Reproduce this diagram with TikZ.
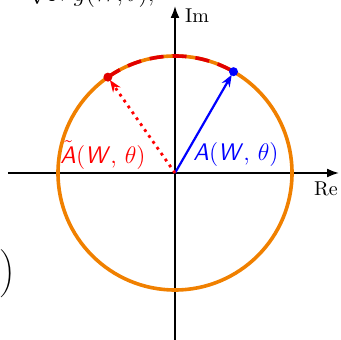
\documentclass[tikz,border=0pt]{standalone}
\usetikzlibrary{arrows.meta,calc}
\definecolor{corange}{RGB}{240,128,0}
\definecolor{cred}{RGB}{225,0,0}
\begin{document}
\begin{tikzpicture}[x=0.5pt,y=0.5pt,
  axis/.style={line width=0.9pt,-{Latex[length=6pt,width=4.5pt]}},
  ring/.style={draw=corange,line width=1.8pt},
  arcdash/.style={draw=cred,line width=1.8pt,dash pattern=on 7pt off 4.5pt},
  vecA/.style={blue,line width=1.1pt,-{Stealth[length=6pt,width=4.5pt]}},
  vecAt/.style={red,line width=1.4pt,dash pattern=on 1.4pt off 2.2pt,-{Stealth[length=6pt,width=4.5pt]}},
  lab/.style={font=\large}]
\clip (-175,-167) rectangle (166,173);
\useasboundingbox (-175,-167) rectangle (166,173);
% partial texts from the surrounding page
\node[anchor=base west,inner sep=0pt,font=\large] (eq) at (-147,171) {$\sqrt{N}\,g(W,\theta),$};
\node[inner sep=0pt] (par) at (-167,-101) {$\bigg)$};
% axes
\coordinate (xl) at (-167,0);
\coordinate (xr) at (164,0);
\coordinate (yb) at (0,-170);
\coordinate (yt) at (0,167);
\draw[axis] (xl) -- (xr);
\draw[axis] (yb) -- (yt);
\node (re) at (151,-16) {Re};
\node (im) at (22,157) {Im};
% circle
\coordinate (O) at (0,0);
\draw[ring] (O) circle[radius=117];
\coordinate (P) at (60:117);
\coordinate (Q) at (125:117);
\draw[arcdash] (Q) arc[start angle=125,end angle=60,radius=117];
% vectors
\draw[vecA] (O) -- ($(O)!0.97!(P)$);
\draw[vecAt] (O) -- ($(O)!0.97!(Q)$);
\fill[blue] (P) circle[radius=4.5];
\fill[cred] (Q) circle[radius=4.5];
\node[lab,text=blue] (la) at (61,18) {\textsf{\textit{A}}(\textsf{\textit{W}}, $\theta$)};
\node[lab,text=red] (lt) at (-72,18) {$\tilde{\textsf{\textit{A}}}$(\textsf{\textit{W}}, $\theta$)};
\end{tikzpicture}
\end{document}
